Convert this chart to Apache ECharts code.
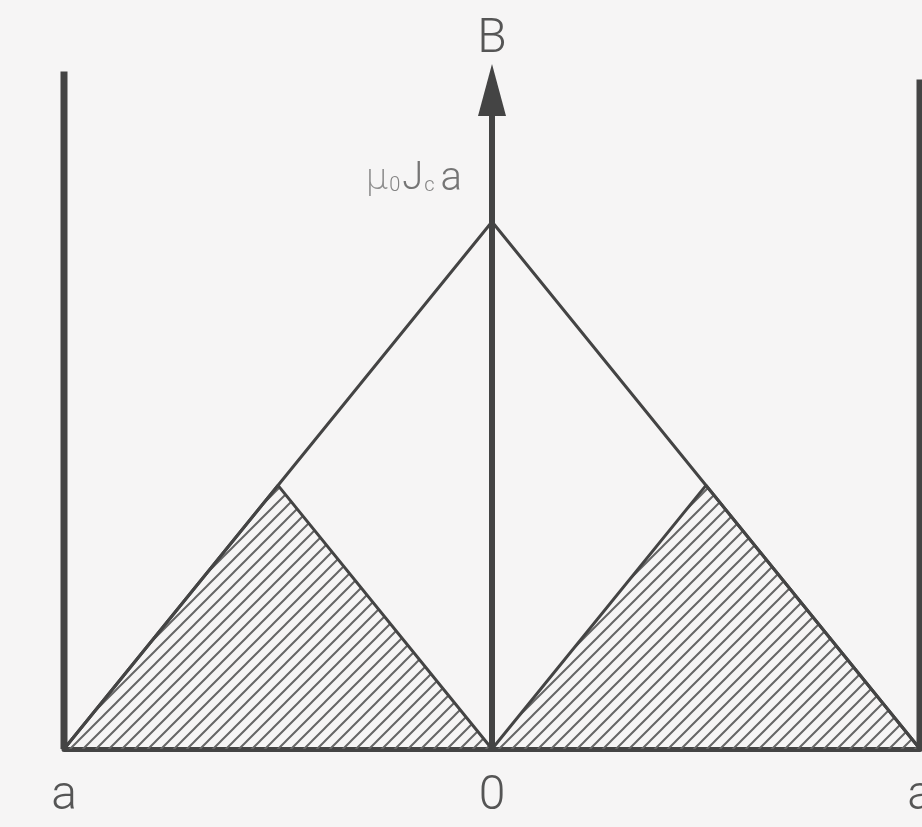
<!DOCTYPE html>
<html>
<head>
<meta charset="utf-8">
<script src="https://cdn.jsdelivr.net/npm/echarts@6/dist/echarts.min.js"></script>
<style>
  html, body { margin: 0; padding: 0; background: #f6f5f5; }
  #chart { width: 922px; height: 827px; }
</style>
</head>
<body>
<div id="chart"></div>
<script>
// Field profile across a slab of half-width a (critical-state model)
const xPos = [-1, 0, 1];                 // position in units of a
const fullField = [0, 1, 0];             // B / (mu0 Jc a) at full penetration
const partX = [-1, -0.5, 0, 0.5, 1];     // hatched (trapped-flux) profile
const partField = [0, 0.5, 0, 0.5, 0];
const wallX = [-1, 1];                   // slab surfaces
const wallTop = [1.285, 1.27];
const tickLabels = ['a', '0', 'a'];

const ink = '#444444';
const textInk = '#555555';

// diagonal hatch tile
function hatchPattern() {
  const s = 13;
  const c = document.createElement('canvas');
  c.width = s; c.height = s;
  const g = c.getContext('2d');
  g.strokeStyle = '#666666';
  g.lineWidth = 2;
  g.beginPath();
  g.moveTo(-2, s + 2); g.lineTo(s + 2, -2);
  g.moveTo(-2, 2); g.lineTo(2, -2);
  g.moveTo(s - 2, s + 2); g.lineTo(s + 2, s - 2);
  g.stroke();
  return c;
}

const chart = echarts.init(document.getElementById('chart'), null, { renderer: 'canvas' });

const pairs = (xs, ys) => xs.map((x, i) => [x, ys[i]]);

chart.setOption({
  backgroundColor: '#f6f5f5',
  animation: false,
  grid: { left: 64, right: 2, top: 90, bottom: 78, outerBoundsMode: 'none', containLabel: false },
  xAxis: {
    type: 'value', min: -1, max: 1, interval: 1,
    axisLine: { show: true, onZero: true, lineStyle: { color: ink, width: 5 } },
    axisTick: { show: false },
    splitLine: { show: false },
    axisLabel: {
      margin: 24,
      color: textInk,
      fontFamily: 'Roboto',
      fontWeight: 300,
      fontSize: 48,
      hideOverlap: false,
      showMinLabel: true,
      showMaxLabel: true,
      formatter: (v, i) => tickLabels[i] || ''
    }
  },
  yAxis: {
    type: 'value', min: 0, max: 1.25,
    name: 'B',
    nameLocation: 'end',
    nameGap: 26,
    nameTextStyle: { color: textInk, fontFamily: 'Roboto', fontWeight: 300, fontSize: 48 },
    axisLine: {
      show: true, onZero: true,
      symbol: ['none', 'triangle'],
      symbolSize: [28, 52],
      lineStyle: { color: ink, width: 6 }
    },
    axisTick: { show: false },
    axisLabel: { show: false },
    splitLine: { show: false }
  },
  series: [
    {
      type: 'line',
      data: pairs(partX, partField),
      showSymbol: false,
      lineStyle: { color: ink, width: 3 },
      areaStyle: { color: { image: hatchPattern(), repeat: 'repeat' }, opacity: 1 },
      z: 2
    },
    {
      type: 'line',
      data: pairs(xPos, fullField),
      showSymbol: false,
      lineStyle: { color: ink, width: 3 },
      z: 3
    },
    {
      type: 'line',
      data: [[wallX[0], 0], [wallX[0], wallTop[0]]],
      showSymbol: false,
      clip: false,
      lineStyle: { color: ink, width: 7 },
      z: 4
    },
    {
      type: 'line',
      data: [[wallX[1], 0], [wallX[1], wallTop[1]]],
      showSymbol: false,
      clip: false,
      lineStyle: { color: ink, width: 7 },
      z: 4
    },
    {
      type: 'scatter',
      data: [[xPos[1], fullField[1]]],
      symbolSize: 0,
      label: {
        show: true,
        position: 'left',
        distance: 0,
        offset: [-30, -42],
        lineHeight: 40,
        formatter: () => '{m|μ}{s|0}{j|J}{s|c}{a|a}',
        rich: {
          m: { fontFamily: 'DejaVu Sans', fontWeight: 200, fontSize: 36, color: '#777', lineHeight: 40 },
          s: { fontFamily: 'Roboto', fontWeight: 300, fontSize: 20, color: '#666', lineHeight: 20, verticalAlign: 'bottom', padding: [0, 2, 4, 1] },
          j: { fontFamily: 'Roboto', fontWeight: 300, fontSize: 38, color: textInk, lineHeight: 40 },
          a: { fontFamily: 'Roboto', fontWeight: 300, fontSize: 40, color: textInk, lineHeight: 40, padding: [0, 0, 0, 4] }
        }
      },
      z: 5
    }
  ]
});
</script>
</body>
</html>
